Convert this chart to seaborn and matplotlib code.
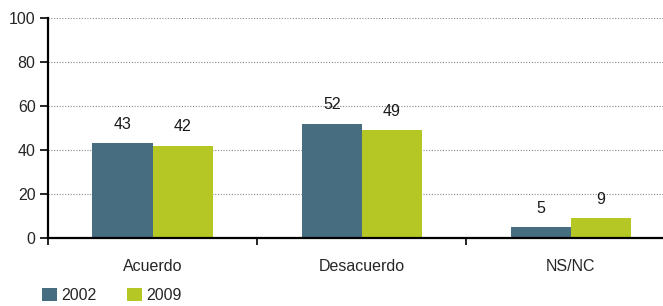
import matplotlib
matplotlib.use("Agg")
import matplotlib.pyplot as plt
import seaborn as sns
import pandas as pd
from matplotlib.patches import Patch

categories = ["Acuerdo", "Desacuerdo", "NS/NC"]
years = ["2002", "2009"]
values_2002 = [43, 52, 5]
values_2009 = [42, 49, 9]
colors = ["#476e80", "#b5c724"]

df = pd.DataFrame({
    "cat": categories * 2,
    "year": [years[0]] * 3 + [years[1]] * 3,
    "val": values_2002 + values_2009,
})

sns.set_style("white")
plt.rcParams["font.family"] = ["Liberation Sans", "DejaVu Sans"]

fig = plt.figure(figsize=(6.63, 3.06), dpi=100)
ax = fig.add_axes([48/663, 1-238/306, 1-48/663, 220/306])

sns.barplot(data=df, x="cat", y="val", hue="year", palette=colors, width=0.575,
            saturation=1, ax=ax, legend=False, edgecolor="none")

for cont in ax.containers:
    for bar in cont:
        h = bar.get_height()
        ax.annotate(f"{h:.0f}", (bar.get_x() + bar.get_width()/2, h),
                    xytext=(0, 8), textcoords="offset points",
                    ha="center", va="bottom", fontsize=11.5, color="#1a1a1a")

ax.set_ylim(0, 100)
ax.set_xlim(-0.5, 2.44)
ax.set_yticks([0, 20, 40, 60, 80, 100])
ax.yaxis.grid(True, linestyle=(0, (1, 1.5)), color="#888888", linewidth=0.8)
ax.set_axisbelow(True)
ax.set_xlabel("")
ax.set_ylabel("")
for s in ["top", "right"]:
    ax.spines[s].set_visible(False)
for s in ["left", "bottom"]:
    ax.spines[s].set_color("black")
    ax.spines[s].set_linewidth(1.6)

ax.set_xticks([0, 1, 2])
ax.set_xticklabels(categories)
ax.set_xticks([-0.5, 0.5, 1.5], minor=True)
ax.tick_params(axis="x", which="major", bottom=True, length=0, pad=15, labelsize=11.5)
ax.tick_params(axis="x", which="minor", bottom=True, length=5, width=1.2, color="black", direction="out")
ax.tick_params(axis="y", which="major", left=True, length=6, width=1.2, color="black",
               direction="out", labelsize=11.5, pad=3)

handles = [Patch(facecolor=c, edgecolor="none") for c in colors]
fig.legend(handles, years, loc="lower left", bbox_to_anchor=(36/663, -0.01),
           ncol=2, frameon=False, fontsize=11.5, handlelength=0.9, handleheight=0.9,
           handletextpad=0.3, columnspacing=1.9, borderaxespad=0)

fig.savefig("out.png", dpi=100)
